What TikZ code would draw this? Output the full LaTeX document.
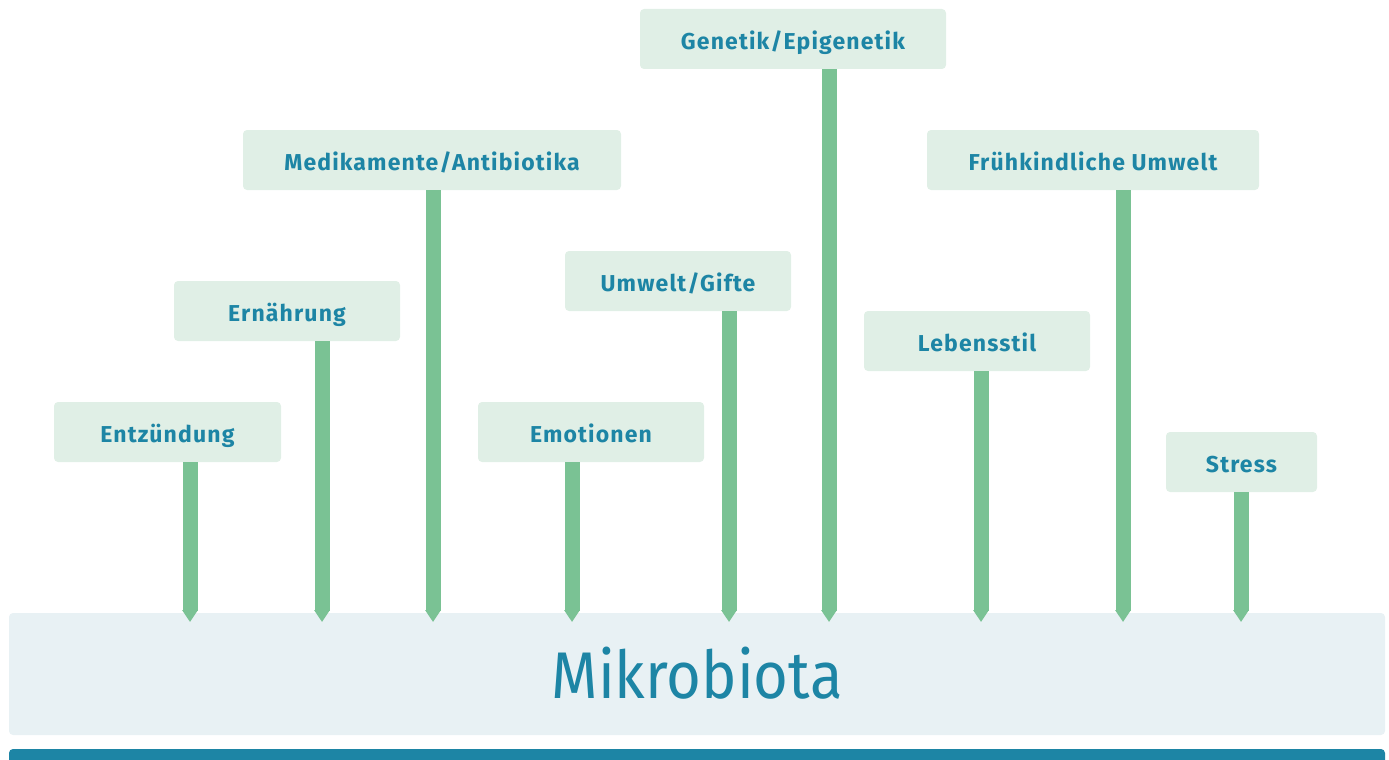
\documentclass[tikz,border=0pt]{standalone}
\usepackage{fontspec}
\setmainfont{Fira Sans}
\usetikzlibrary{arrows.meta}

\definecolor{tealtext}{RGB}{29,133,165}
\definecolor{labelfill}{RGB}{224,239,230}
\definecolor{stakegreen}{RGB}{122,194,148}
\definecolor{basefill}{RGB}{232,241,244}

\begin{document}
\begin{tikzpicture}[x=1pt, y=-1pt,
        factor/.style = {rectangle, rounded corners=4pt,
            fill=labelfill, text=tealtext,
            minimum height=60pt, inner sep=0pt,
            text height=20pt, text depth=0pt,
            font=\fontsize{23}{26}\selectfont\bfseries\addfontfeature{LetterSpace=5}},
        stake/.style = {stakegreen, line width=15pt,
            -{Triangle[length=12pt, width=15pt]}}]

        \useasboundingbox (0,0) rectangle (1389,760);

        % Base: Mikrobiota
        \node[rectangle, rounded corners=4pt, fill=basefill,
            minimum width=1376pt, minimum height=122pt, inner sep=0pt,
            text height=48pt, text depth=0pt, text=tealtext,
            font=\fontsize{66}{70}\selectfont\addfontfeature{FakeStretch=0.905}] (mik) at (697,674) {Mikrobiota};
        \fill[tealtext, rounded corners=4pt] (9,761) -- (9,749) -- (1385,749)
            [sharp corners] -- (1385,761) -- cycle;

        % Factors
        \node[factor, minimum width=227pt] (ent) at (167.5,432) {Entzündung};
        \node[factor, minimum width=226pt] (ern) at (287,311) {Ernährung};
        \node[factor, minimum width=378pt] (med) at (432,160) {Medikamente/Antibiotika};
        \node[factor, minimum width=226pt] (emo) at (591,432) {Emotionen};
        \node[factor, minimum width=226pt] (umw) at (678,281) {Umwelt/Gifte};
        \node[factor, minimum width=306pt] (gen) at (793,39) {Genetik/Epigenetik};
        \node[factor, minimum width=226pt] (leb) at (977,341) {Lebensstil};
        \node[factor, minimum width=332pt] (fru) at (1093,160) {Frühkindliche Umwelt};
        \node[factor, minimum width=151pt] (str) at (1241.5,462) {Stress};

        % Stakes into the base
        \foreach \f/\x in {ent/190, ern/322, med/433, emo/572, umw/729,
                gen/829, leb/981, fru/1123, str/1241} {
            \coordinate (tip-\f) at (\x,622);
            \draw[stake] (\f.south -| tip-\f) -- (tip-\f);
        }

    \end{tikzpicture}
\end{document}
